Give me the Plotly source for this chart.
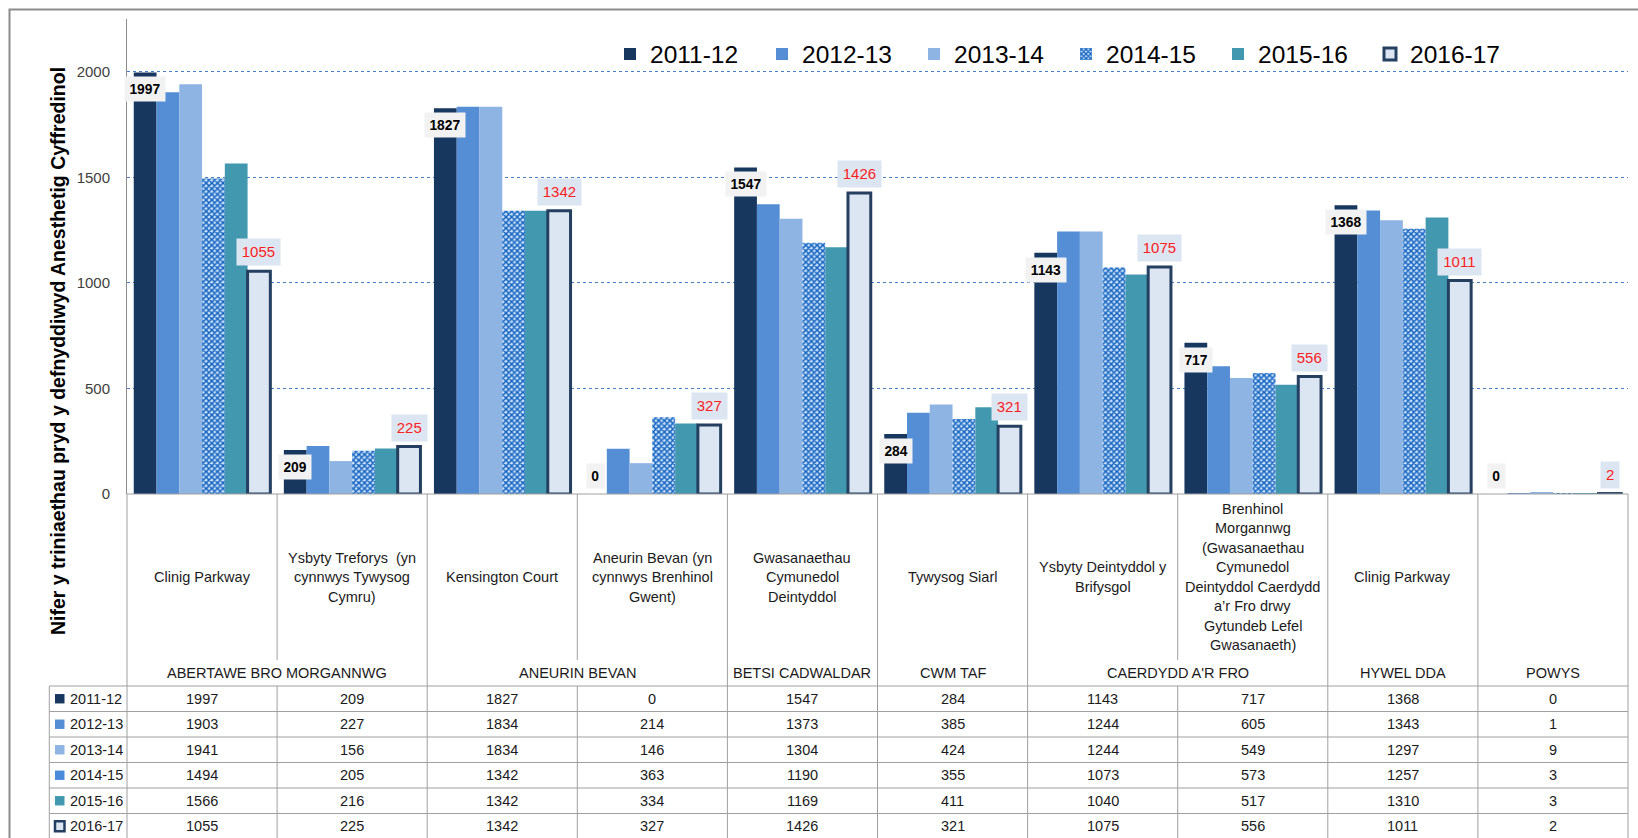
import plotly.graph_objects as go

# ---------------- data ----------------
series = ["2011-12", "2012-13", "2013-14", "2014-15", "2015-16", "2016-17"]
v2011 = [1997, 209, 1827, 0, 1547, 284, 1143, 717, 1368, 0]
v2012 = [1903, 227, 1834, 214, 1373, 385, 1244, 605, 1343, 1]
v2013 = [1941, 156, 1834, 146, 1304, 424, 1244, 549, 1297, 9]
v2014 = [1494, 205, 1342, 363, 1190, 355, 1073, 573, 1257, 3]
v2015 = [1566, 216, 1342, 334, 1169, 411, 1040, 517, 1310, 3]
v2016 = [1055, 225, 1342, 327, 1426, 321, 1075, 556, 1011, 2]
values = [v2011, v2012, v2013, v2014, v2015, v2016]

cat_lines = [
    ["Clinig Parkway"],
    ["Ysbyty Treforys  (yn", "cynnwys Tywysog", "Cymru)"],
    ["Kensington Court"],
    ["Aneurin Bevan (yn", "cynnwys Brenhinol", "Gwent)"],
    ["Gwasanaethau", "Cymunedol", "Deintyddol"],
    ["Tywysog Siarl"],
    ["Ysbyty Deintyddol y", "Brifysgol"],
    ["Brenhinol", "Morgannwg", "(Gwasanaethau", "Cymunedol", "Deintyddol Caerdydd",
     "a\u2019r Fro drwy", "Gytundeb Lefel", "Gwasanaeth)"],
    ["Clinig Parkway"],
    [],
]
groups = ["ABERTAWE BRO MORGANNWG", "ANEURIN BEVAN", "BETSI CADWALDAR", "CWM TAF",
          "CAERDYDD A'R FRO", "HYWEL DDA", "POWYS"]
group_sizes = [2, 2, 1, 1, 2, 1, 1]
y_title = "Nifer y triniaethau pryd y defnyddiwyd Anesthetig Cyffredinol"

# ---------------- styles ----------------
colors = ["#17375E", "#558ED5", "#8EB4E3", "#0F62C2", "#4198AF", "#DCE6F2"]
key_colors = ["#17375E", "#558ED5", "#8EB4E3", "#4A8CDA", "#4198AF", "#DCE6F2"]
outline_dark = "#243F60"
FONT = "Liberation Sans, Arial, sans-serif"
GRID = "#4A7CC8"
LINE = "#A0A0A0"
TXT = "#1A1A1A"

W, H = 1638, 838
ML, MR, MT, MB = 127, 10, 19, 344
PW, PH = W - ML - MR, H - MT - MB
Y0 = H - MB  # pixel of zero line
BARGAP = 0.09
ncat = len(v2011)


def py(p):  # pixel y -> paper
    return (Y0 - p) / PH


def px(p):  # pixel x -> paper
    return (p - ML) / PW


fig = go.Figure()
x = list(range(ncat))
for i, (name, vals) in enumerate(zip(series, values)):
    marker = dict(color=colors[i], line=dict(width=0))
    if i == 3:
        marker = dict(color="#9DC1EC",
                      pattern=dict(shape="x", fgcolor=colors[i], bgcolor="#C9DDF5",
                                   size=4, solidity=0.6, fillmode="replace"),
                      line=dict(width=0))
    if i == 5:
        marker = dict(color=colors[i], line=dict(width=3, color=outline_dark))
    fig.add_trace(go.Bar(x=x, y=vals, name=name, marker=marker))

ann = []
shapes = []
bw = (1 - BARGAP) / len(series)

# data labels for 2011-12 and 2016-17
for c in range(ncat):
    v = v2011[c]
    xo = c + (0 - 2.5) * bw
    t = str(v)
    common = dict(x=xo, y=v, xref="x", yref="y", text="<b>%s</b>" % t, showarrow=False,
                  bgcolor="#F2F2F2", borderpad=3, width=len(t) * 7.7 + 3, height=18,
                  font=dict(family=FONT, size=13.8, color="black"))
    if v > 0:
        ann.append(dict(yanchor="top", yshift=-4, **common))
    else:
        ann.append(dict(yanchor="bottom", yshift=5, **common))
    v = v2016[c]
    t = str(v)
    xo = c + (5 - 2.5) * bw
    ann.append(dict(x=xo, y=v, xref="x", yref="y", text=t, showarrow=False,
                    yanchor="bottom", yshift=5, bgcolor="#DCE6F2", borderpad=3,
                    width=len(t) * 8.2 + 4, height=19.5,
                    font=dict(family=FONT, size=15, color="#FF2020")))

# y-axis title
ann.append(dict(x=px(58), y=py(351), xref="paper", yref="paper", text="<b>%s</b>" % y_title,
                textangle=-90, showarrow=False, xanchor="center", yanchor="middle",
                font=dict(family=FONT, size=19.5, color="black")))

# category labels
LINE_H = 19.5
for c, lines in enumerate(cat_lines):
    n = len(lines)
    for j, t in enumerate(lines):
        yc = 577 + (j - (n - 1) / 2) * LINE_H
        ann.append(dict(x=c, y=py(yc), xref="x", yref="paper", text=t, showarrow=False,
                        xanchor="center", yanchor="middle",
                        font=dict(family=FONT, size=14.5, color=TXT)))

# group labels
group_of = []
start = 0
for g, (gname, gs) in enumerate(zip(groups, group_sizes)):
    xc = start + (gs - 1) / 2
    ann.append(dict(x=xc, y=py(673), xref="x", yref="paper", text=gname, showarrow=False,
                    xanchor="center", yanchor="middle",
                    font=dict(family=FONT, size=14.5, color=TXT)))
    group_of += [g] * gs
    start += gs

# data table rows
ROW_TOP = 686
ROW_H = 25.5
for r, (name, vals) in enumerate(zip(series, values)):
    yc = ROW_TOP + r * ROW_H + ROW_H / 2
    ann.append(dict(x=px(68), y=py(yc), xref="paper", yref="paper", text=name, showarrow=False,
                    xanchor="left", yanchor="middle",
                    font=dict(family=FONT, size=14.5, color=TXT)))
    for c, v in enumerate(vals):
        ann.append(dict(x=c, y=py(yc), xref="x", yref="paper", text=str(v), showarrow=False,
                        xanchor="center", yanchor="middle",
                        font=dict(family=FONT, size=14.5, color=TXT)))
    # legend key in table
    if r == 5:
        shapes.append(dict(type="rect", xref="paper", yref="paper",
                           x0=px(55), x1=px(64.5), y0=py(yc - 5), y1=py(yc + 5),
                           fillcolor=key_colors[r], line=dict(color=outline_dark, width=2.5)))
    else:
        shapes.append(dict(type="rect", xref="paper", yref="paper",
                           x0=px(55), x1=px(64.5), y0=py(yc - 4.7), y1=py(yc + 4.7),
                           fillcolor=key_colors[r], line=dict(width=0)))
    # horizontal row line
    shapes.append(dict(type="line", xref="paper", yref="paper", x0=px(49.3), x1=1,
                       y0=py(ROW_TOP + r * ROW_H), y1=py(ROW_TOP + r * ROW_H),
                       line=dict(color=LINE, width=1)))

BOTTOM = H + 20
# vertical lines
shapes.append(dict(type="line", xref="paper", yref="paper", x0=px(49.3), x1=px(49.3),
                   y0=py(ROW_TOP), y1=py(BOTTOM), line=dict(color=LINE, width=1)))
shapes.append(dict(type="line", xref="paper", yref="paper", x0=0, x1=0,
                   y0=0, y1=py(BOTTOM), line=dict(color=LINE, width=1)))
shapes.append(dict(type="line", xref="paper", yref="paper", x0=1, x1=1,
                   y0=0, y1=py(BOTTOM), line=dict(color=LINE, width=1)))
for k in range(1, ncat):
    xb = k - 0.5
    if group_of[k - 1] == group_of[k]:
        shapes.append(dict(type="line", xref="x", yref="paper", x0=xb, x1=xb,
                           y0=0, y1=py(660), line=dict(color=LINE, width=1)))
        shapes.append(dict(type="line", xref="x", yref="paper", x0=xb, x1=xb,
                           y0=py(ROW_TOP), y1=py(BOTTOM), line=dict(color=LINE, width=1)))
    else:
        shapes.append(dict(type="line", xref="x", yref="paper", x0=xb, x1=xb,
                           y0=0, y1=py(BOTTOM), line=dict(color=LINE, width=1)))
# zero / table top line
shapes.append(dict(type="line", xref="paper", yref="paper", x0=0, x1=1, y0=0, y1=0,
                   line=dict(color=LINE, width=1)))
# outer chart frame
shapes.append(dict(type="rect", xref="paper", yref="paper", x0=px(9.5), x1=px(W + 20),
                   y0=py(H + 20), y1=py(9.5), line=dict(color="#8C8C8C", width=2),
                   fillcolor="rgba(0,0,0,0)"))

fig.update_layout(
    width=W, height=H,
    margin=dict(l=ML, r=MR, t=MT, b=MB),
    paper_bgcolor="white", plot_bgcolor="white",
    barmode="group", bargap=BARGAP, bargroupgap=0,
    font=dict(family=FONT, color=TXT),
    showlegend=True,
    legend=dict(orientation="h", x=px(610), xanchor="left", y=py(54), yanchor="middle",
                font=dict(family=FONT, size=24.5, color="black"),
                entrywidth=107, entrywidthmode="pixels", bgcolor="rgba(0,0,0,0)",
                itemwidth=30, traceorder="normal"),
    xaxis=dict(range=[-0.5, ncat - 0.5], showticklabels=False, showgrid=False,
               zeroline=False, showline=False, ticks=""),
    yaxis=dict(range=[0, 2250], tickvals=[0, 500, 1000, 1500, 2000], showgrid=True,
               gridcolor=GRID, griddash="dot", gridwidth=1.2, zeroline=False,
               showline=True, linecolor="#8C8C8C", linewidth=1, ticks="",
               ticklabelstandoff=13,
               tickfont=dict(family=FONT, size=15, color="#404040")),
    annotations=ann,
    shapes=shapes,
)

fig.write_html("out.html", config={"displayModeBar": False},
               post_script="document.body.style.margin='0';document.body.style.padding='0';")
